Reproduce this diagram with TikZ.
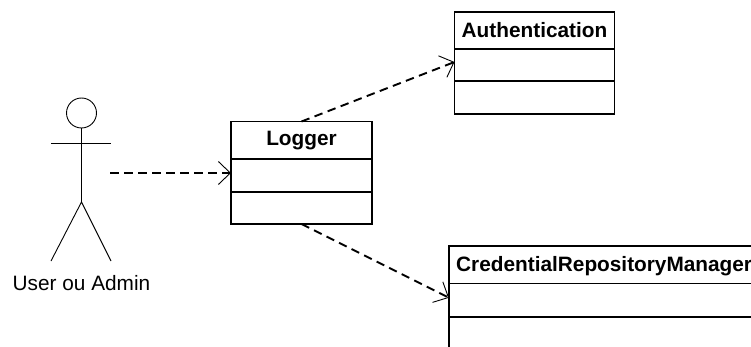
\documentclass[tikz,border=0pt]{standalone}
\usepackage{fontspec}
\setmainfont{Liberation Sans}
\usetikzlibrary{arrows.meta}
\tikzset{
  x=1pt,y=-1pt,
  compartment/.style={draw=black,line width=1.7pt,minimum width=#1,inner sep=0pt,outer sep=0pt,anchor=north west},
  titlebox/.style={font=\fontsize{20.8}{24}\selectfont\bfseries},
  limb/.style={draw=black,line width=0.9pt},
  dep/.style={draw=black,line width=1.9pt,dash pattern=on 8.5pt off 5.5pt,
    -{Straight Barb[length=12pt,width=23pt,line width=0.9pt,sep=0pt]}},
}
\begin{document}
\begin{tikzpicture}
\useasboundingbox (0,0) rectangle (751,347);
\clip (0,0) rectangle (751,347);
% Authentication
\node[compartment=160pt,minimum height=37pt,titlebox] (authT) at (454.5,12) {Authentication};
\node[compartment=160pt,minimum height=32pt] (authA) at (454.5,49) {};
\node[compartment=160pt,minimum height=33pt] (authO) at (454.5,81) {};
% Logger
\node[compartment=141pt,minimum height=37.5pt,titlebox] (logT) at (231,121.5) {Logger};
\node[compartment=141pt,minimum height=33pt] (logA) at (231,159) {};
\node[compartment=141pt,minimum height=32pt] (logO) at (231,192) {};
% Credential
\node[compartment=320pt,minimum height=37.5pt] (credT) at (449,246) {};
\node[titlebox,anchor=west,inner sep=0pt] (credL) at (456,266) {CredentialRepositoryManager};
\node[compartment=320pt,minimum height=33.5pt] (credA) at (449,283.5) {};
\node[compartment=320pt,minimum height=50pt] (credO) at (449,317) {};
% Actor
\node[circle,limb,minimum size=30pt,inner sep=0pt,outer sep=0pt] (head) at (81.5,113) {};
\coordinate (hip) at (81.5,202);
\coordinate (armL) at (51,143);
\coordinate (armR) at (111,143);
\coordinate (footL) at (51,261);
\coordinate (footR) at (111,261);
\draw[limb] (head.south) -- (hip);
\draw[limb] (armL) -- (armR);
\draw[limb] (footL) -- (hip) -- (footR);
\node[font=\fontsize{20.8}{24}\selectfont,inner sep=0pt] (actor) at (81.5,283) {User ou Admin};
% Connectors
\coordinate (actorOut) at (110,173);
\draw[dep] (actorOut) -- (logA.west |- actorOut);
\draw[dep] (logT.north) -- ([yshift=3pt]authA.west);
\draw[dep] (logO.south) -- ([yshift=2.5pt]credA.west);
\end{tikzpicture}
\end{document}
